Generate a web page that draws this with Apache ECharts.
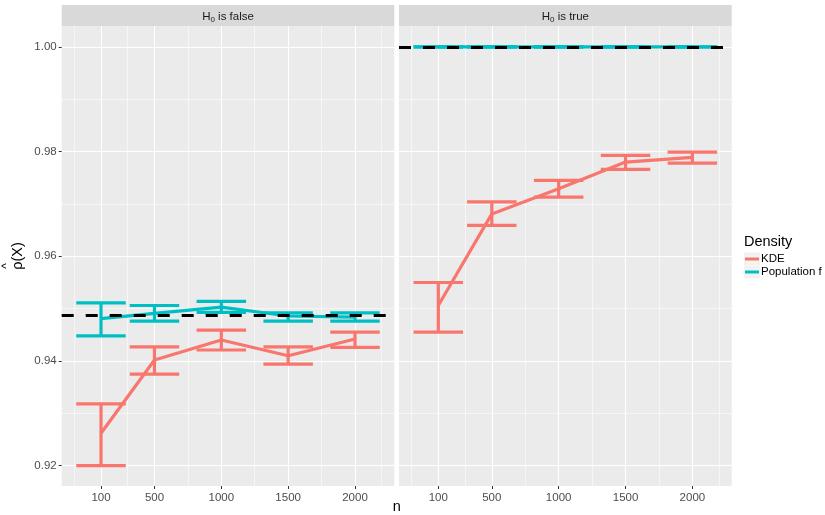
<!DOCTYPE html>
<html>
<head>
<meta charset="utf-8">
<script src="https://cdn.jsdelivr.net/npm/echarts@6/dist/echarts.min.js"></script>
<style>
html,body{margin:0;padding:0;background:#fff;}
#chart{width:825px;height:515px;}
</style>
</head>
<body>
<div id="chart"></div>
<script>
// ---- data ----
const nValues = [100, 500, 1000, 1500, 2000];
const panelTitles = ['is false', 'is true'];
const seriesNames = ['KDE', 'Population f'];

const kdeFalseMean = [0.9262, 0.9402, 0.9440, 0.9410, 0.9442];
const kdeFalseLo   = [0.9200, 0.9375, 0.9421, 0.9394, 0.9426];
const kdeFalseHi   = [0.9318, 0.9427, 0.9459, 0.9427, 0.9455];

const popFalseMean = [0.9481, 0.9491, 0.9503, 0.9486, 0.9484];
const popFalseLo   = [0.9448, 0.9476, 0.9493, 0.9476, 0.9476];
const popFalseHi   = [0.9511, 0.9506, 0.9514, 0.9492, 0.9492];

const kdeTrueMean = [0.9506, 0.9681, 0.9729, 0.9780, 0.9789];
const kdeTrueLo   = [0.9455, 0.9659, 0.9713, 0.9766, 0.9778];
const kdeTrueHi   = [0.9550, 0.9704, 0.9745, 0.9793, 0.9799];

const popTrueMean = [1.0, 1.0, 1.0, 1.0, 1.0];
const popTrueLo   = [1.0, 1.0, 1.0, 1.0, 1.0];
const popTrueHi   = [1.0, 1.0, 1.0, 1.0, 1.0];

const nullLevels = [0.9488, 1.0];

const xTicks = [100, 500, 1000, 1500, 2000];
const xMinorTicks = [-100, 300, 750, 1250, 1750, 2200];
const yTicks = [0.92, 0.94, 0.96, 0.98, 1.00];
const yMinorTicks = [0.93, 0.95, 0.97, 0.99];

// ---- layout / style ----
const X_MIN = -194, X_MAX = 2294;
const Y_MIN = 0.91612, Y_MAX = 1.0040;
const CAP = 185;
const RED = '#F8766D', CYAN = '#00BFC4';
const FONT = 'Liberation Sans, Arial, Helvetica, sans-serif';
const grids = [
  {left: 61.7, top: 26, width: 332.6, height: 460},
  {left: 399, top: 26, width: 332.7, height: 460}
];

function zip3(a, b, c) { return nValues.map((n, i) => [n, b[i], c[i]]); }
function zip2(a) { return nValues.map((n, i) => [n, a[i]]); }

function errRender(params, api) {
  const x = api.value(0), lo = api.value(1), hi = api.value(2);
  const a = api.coord([x, hi]), b = api.coord([x, lo]);
  const hl = api.coord([x - CAP, hi]), hr = api.coord([x + CAP, hi]);
  const ll = api.coord([x - CAP, lo]), lr = api.coord([x + CAP, lo]);
  const style = {stroke: api.visual('color'), lineWidth: 3.2, fill: null};
  return {type: 'group', children: [
    {type: 'line', shape: {x1: a[0], y1: a[1], x2: b[0], y2: b[1]}, style: style},
    {type: 'line', shape: {x1: hl[0], y1: hl[1], x2: hr[0], y2: hr[1]}, style: style},
    {type: 'line', shape: {x1: ll[0], y1: ll[1], x2: lr[0], y2: lr[1]}, style: style}
  ]};
}

function xAxisMajor(gi) {
  return {
    type: 'value', gridIndex: gi, min: X_MIN, max: X_MAX, position: 'bottom',
    axisLine: {show: false, onZero: false},
    axisTick: {show: true, length: 3, lineStyle: {color: '#333333', width: 1}, customValues: xTicks},
    axisLabel: {show: true, customValues: xTicks, color: '#4D4D4D', fontSize: 11.5, fontFamily: FONT, margin: 6,
      formatter: v => String(v)},
    splitLine: {show: true, lineStyle: {color: '#FFFFFF', width: 1.1}}
  };
}
function xAxisMinor(gi) {
  return {
    type: 'value', gridIndex: gi, min: X_MIN, max: X_MAX, position: 'bottom',
    axisLine: {show: false, onZero: false},
    axisTick: {show: false, customValues: xMinorTicks},
    axisLabel: {show: false, customValues: xMinorTicks},
    splitLine: {show: true, lineStyle: {color: '#FFFFFF', width: 0.55}}
  };
}
function yAxisMajor(gi) {
  return {
    type: 'value', gridIndex: gi, min: Y_MIN, max: Y_MAX, position: 'left',
    axisLine: {show: false, onZero: false},
    axisTick: {show: gi === 0, length: 3, lineStyle: {color: '#333333', width: 1}, customValues: yTicks},
    axisLabel: {show: gi === 0, customValues: yTicks, color: '#4D4D4D', fontSize: 11.5, fontFamily: FONT, margin: 5,
      formatter: v => Number(v).toFixed(2)},
    splitLine: {show: true, lineStyle: {color: '#FFFFFF', width: 1.1}},
    name: gi === 0 ? '{h|^}\n{m|ρ(X)}' : '',
    nameLocation: 'middle', nameRotate: 90, nameGap: 36,
    nameTextStyle: {color: '#000', fontSize: 14.5, fontFamily: FONT,
      rich: {
        h: {fontSize: 12, fontFamily: FONT, color: '#000', lineHeight: 7, align: 'left', padding: [0, 0, 0, 1]},
        m: {fontSize: 14.5, fontFamily: FONT, color: '#000', lineHeight: 16}
      }}
  };
}
function yAxisMinor(gi) {
  return {
    type: 'value', gridIndex: gi, min: Y_MIN, max: Y_MAX, position: 'left',
    axisLine: {show: false, onZero: false},
    axisTick: {show: false, customValues: yMinorTicks},
    axisLabel: {show: false, customValues: yMinorTicks},
    splitLine: {show: true, lineStyle: {color: '#FFFFFF', width: 0.55}}
  };
}

const panelData = [
  {kde: [kdeFalseMean, kdeFalseLo, kdeFalseHi], pop: [popFalseMean, popFalseLo, popFalseHi]},
  {kde: [kdeTrueMean, kdeTrueLo, kdeTrueHi], pop: [popTrueMean, popTrueLo, popTrueHi]}
];

const series = [];
panelData.forEach((p, gi) => {
  [[p.kde, RED, seriesNames[0]], [p.pop, CYAN, seriesNames[1]]].forEach(([d, col, nm]) => {
    series.push({
      type: 'custom', name: nm, xAxisIndex: gi, yAxisIndex: gi,
      renderItem: errRender, data: zip3(d[0], d[1], d[2]),
      encode: {x: 0, y: [1, 2]}, itemStyle: {color: col}, clip: true, z: 3, silent: true
    });
    series.push({
      type: 'line', name: nm, xAxisIndex: gi, yAxisIndex: gi,
      data: zip2(d[0]), symbol: 'none', showSymbol: false,
      lineStyle: {color: col, width: 3.2}, itemStyle: {color: col}, z: 4, silent: true
    });
  });
  series.push({
    type: 'line', name: 'null' + gi, xAxisIndex: gi, yAxisIndex: gi, data: [], z: 10, silent: true,
    markLine: {
      symbol: 'none', silent: true, animation: false, precision: 6,
      label: {show: false},
      lineStyle: {color: '#000000', width: 3, type: [12, 12]},
      data: [{yAxis: nullLevels[gi]}]
    }
  });
});

const graphic = [];
grids.forEach((g, gi) => {
  graphic.push({type: 'rect', left: g.left, top: 5, shape: {x: 0, y: 0, width: g.width, height: 21},
    style: {fill: '#D9D9D9'}, z: -1});
  graphic.push({type: 'text', x: g.left + g.width / 2, y: 16.5,
    style: {text: 'H{s|0} ' + panelTitles[gi], fill: '#1A1A1A', font: '11.5px ' + FONT,
      align: 'center', verticalAlign: 'middle',
      rich: {s: {fontSize: 8, fontFamily: FONT, fill: '#1A1A1A', padding: [6, 0, 0, 0]}}}});
});
graphic.push({type: 'text', x: (grids[0].left + grids[1].left + grids[1].width) / 2, y: 507,
  style: {text: 'n', fill: '#000', font: '14.5px ' + FONT, align: 'center', verticalAlign: 'middle'}});
graphic.push({type: 'text', x: 744, y: 242,
  style: {text: 'Density', fill: '#000', font: '14.5px ' + FONT, align: 'left', verticalAlign: 'middle'}});
[259, 272].forEach(cy => {
  graphic.push({type: 'rect', shape: {x: 744, y: cy - 6.5, width: 16, height: 13}, style: {fill: '#F2F2F2'}, z: -1});
});

const option = {
  animation: false,
  backgroundColor: '#FFFFFF',
  grid: grids.map(g => Object.assign({show: true, backgroundColor: '#EBEBEB', borderWidth: 0,
    containLabel: false, outerBoundsMode: 'none'}, g)),
  xAxis: [xAxisMajor(0), xAxisMajor(1), xAxisMinor(0), xAxisMinor(1)],
  yAxis: [yAxisMajor(0), yAxisMajor(1), yAxisMinor(0), yAxisMinor(1)],
  legend: {
    show: true, orient: 'vertical', left: 745, top: 252.5,
    data: [
      {name: seriesNames[0], itemStyle: {color: RED}},
      {name: seriesNames[1], itemStyle: {color: CYAN}}
    ],
    icon: 'rect', itemWidth: 14, itemHeight: 3, itemGap: 0,
    selectedMode: false,
    textStyle: {color: '#000', fontSize: 11.5, fontFamily: FONT, lineHeight: 13, padding: [0, 0, 0, -3]},
    padding: 0
  },
  graphic: graphic,
  series: series
};

const chart = echarts.init(document.getElementById('chart'), null, {renderer: 'canvas'});
chart.setOption(option);
</script>
</body>
</html>
